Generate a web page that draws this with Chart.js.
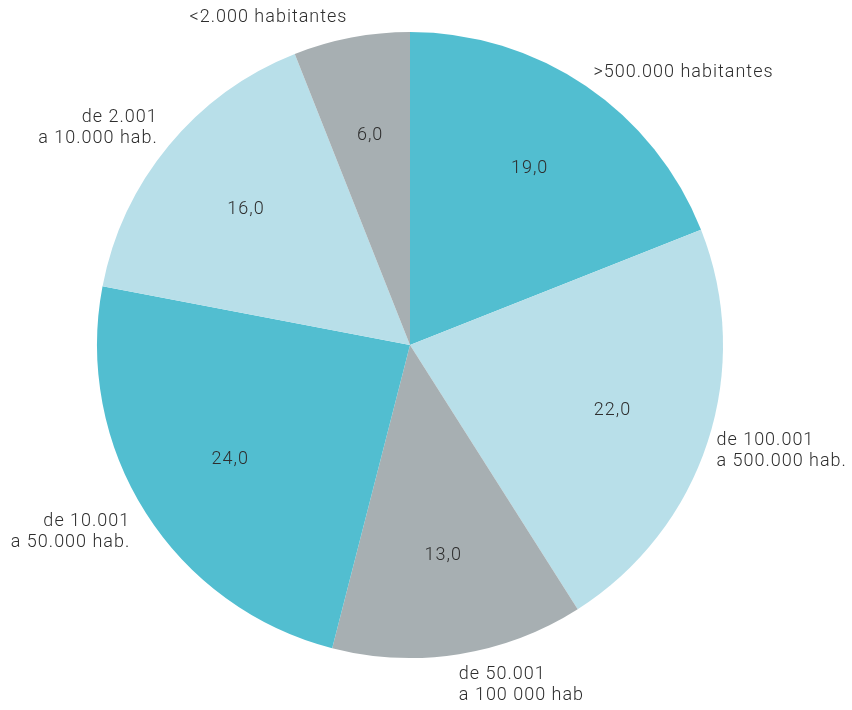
<!DOCTYPE html>
<html lang="es">
<head>
    <meta charset="UTF-8">
    <title>Municipios por tamaño</title>
    <script src="https://cdn.jsdelivr.net/npm/chart.js"></script>
    <style>
        html, body { margin: 0; padding: 0; background: #fff; }
        #wrap { width: 852px; height: 710px; }
    </style>
</head>
<body>
    <div id="wrap"><canvas id="grafica"></canvas></div>

    <script>
        // datos de la tarta (sentido horario desde arriba)
        const categorias = [
            ['>500.000 habitantes'],
            ['de 100.001', 'a 500.000 hab.'],
            ['de 50.001', 'a 100 000 hab'],
            ['de 10.001', 'a 50.000 hab.'],
            ['de 2.001', 'a 10.000 hab.'],
            ['<2.000 habitantes']
        ];
        const valores = [19.0, 22.0, 13.0, 24.0, 16.0, 6.0];
        const colores = ['#52bed0', '#b8dfe9', '#a7afb2', '#52bed0', '#b8dfe9', '#a7afb2'];

        const fuente = '300 18px Roboto';
        const colorTexto = '#2e2e2e';

        // pequeños ajustes de las etiquetas exteriores
        const ajusteEtiqueta = [[-10, 12], [-21, 0], [-5, 0], [11, 3], [13, 2], [2, 11]];

        const etiquetas = {
            id: 'etiquetas',
            afterDatasetsDraw(chart) {
                const ctx = chart.ctx;
                const arcs = chart.getDatasetMeta(0).data;
                ctx.save();
                ctx.font = fuente;
                ctx.letterSpacing = '1px';
                ctx.fillStyle = colorTexto;
                ctx.textBaseline = 'middle';
                arcs.forEach((arc, i) => {
                    const p = arc.getProps(['x', 'y', 'startAngle', 'endAngle', 'outerRadius'], true);
                    const a = (p.startAngle + p.endAngle) / 2;
                    // valor dentro
                    const ri = p.outerRadius * 0.68;
                    ctx.textAlign = 'center';
                    ctx.fillText(valores[i].toFixed(1).replace('.', ','), p.x + Math.cos(a) * ri, p.y + Math.sin(a) * ri);
                    // nombre fuera
                    const ro = p.outerRadius * 1.1;
                    const x = p.x + Math.cos(a) * ro + ajusteEtiqueta[i][0];
                    const y = p.y + Math.sin(a) * ro + ajusteEtiqueta[i][1];
                    const lineas = categorias[i];
                    ctx.textAlign = Math.cos(a) >= 0 ? 'left' : 'right';
                    const alto = 21;
                    lineas.forEach((t, j) => {
                        ctx.fillText(t, x, y + (j - (lineas.length - 1) / 2) * alto);
                    });
                });
                ctx.restore();
            }
        };

        new Chart(document.getElementById('grafica'), {
            type: 'pie',
            data: {
                labels: categorias.map(c => c.join(' ')),
                datasets: [{
                    data: valores,
                    backgroundColor: colores,
                    borderWidth: 0
                }]
            },
            options: {
                responsive: true,
                maintainAspectRatio: false,
                animation: false,
                layout: { padding: { top: 32, bottom: 52, left: 97, right: 129 } },
                plugins: {
                    legend: { display: false },
                    tooltip: { enabled: false }
                }
            },
            plugins: [etiquetas]
        });
    </script>
</body>
</html>
